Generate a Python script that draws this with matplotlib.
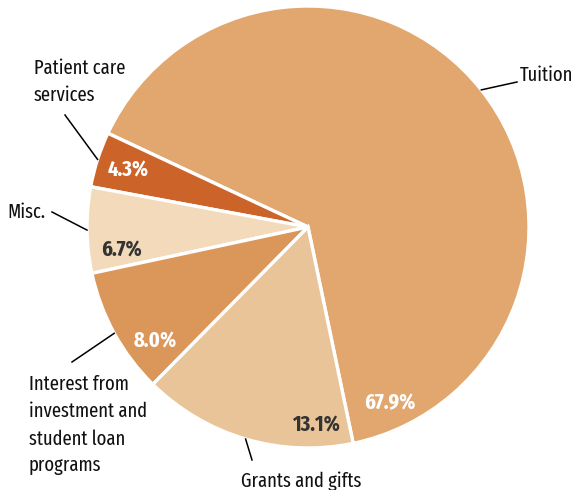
import numpy as np
import matplotlib.pyplot as plt

# revenue sources, counter-clockwise from the bottom
labels = ["Tuition", "Patient care\nservices", "Misc.",
          "Interest from\ninvestment and\nstudent loan\nprograms", "Grants and gifts"]
pct_text = ["67.9%", "4.3%", "6.7%", "8.0%", "13.1%"]
# slice sizes as drawn in the picture (degrees of the circle)
slice_deg = [233.1, 14.6, 22.6, 33.3, 56.4]
colors = ["#E1A76E", "#CC6329", "#F3DABB", "#DB9659", "#EAC499"]
pct_colors = ["white", "white", "#333333", "white", "#333333"]

W, H = 582, 490
cx, cy, R = 308, H - 227, 221

plt.rcParams['font.family'] = ['Fira Sans Extra Condensed', 'Fira Sans Condensed',
                               'Asap Condensed', 'DejaVu Sans']

fig = plt.figure(figsize=(W / 100, H / 100), dpi=100)
ax = fig.add_axes([0, 0, 1, 1])

wedges, _ = ax.pie(slice_deg, colors=colors, startangle=-78.2, counterclock=True,
                   center=(cx, cy), radius=R, frame=True,
                   wedgeprops=dict(edgecolor='white', linewidth=2.4))
ax.set_xlim(0, W)
ax.set_ylim(0, H)
ax.set_aspect('equal')
ax.axis('off')

# percent labels, centre of the digits in picture pixels
pct_pos = [(390, 402), (128.5, 170), (121.5, 249.5), (155.5, 341), (316, 424.5)]
for txt, c, (px, py) in zip(pct_text, pct_colors, pct_pos):
    ax.text(px, H - py - 7, txt, color=c, fontsize=16, fontweight='bold',
            ha='center', va='baseline')

# outside labels (left edge, baseline of last line) with leader lines
lab_pos = [(520, 81), (34, 101), (7, 218), (29, 472), (241, 487)]
line_end = [(517, 82), (65, 115), (52, 212), (72, 362), (252, 460)]
for w, lab, (lx, ly), (ex, ey) in zip(wedges, labels, lab_pos, line_end):
    mid = np.deg2rad((w.theta1 + w.theta2) / 2)
    sx, sy = cx + R * np.cos(mid), cy + R * np.sin(mid)
    ax.plot([sx, ex], [sy, H - ey], color='black', lw=1.1)
    ax.text(lx, H - ly, lab, fontsize=14.5, color='#111111', ha='left',
            va='baseline', linespacing=1.5)

fig.savefig('out.png', dpi=100)
